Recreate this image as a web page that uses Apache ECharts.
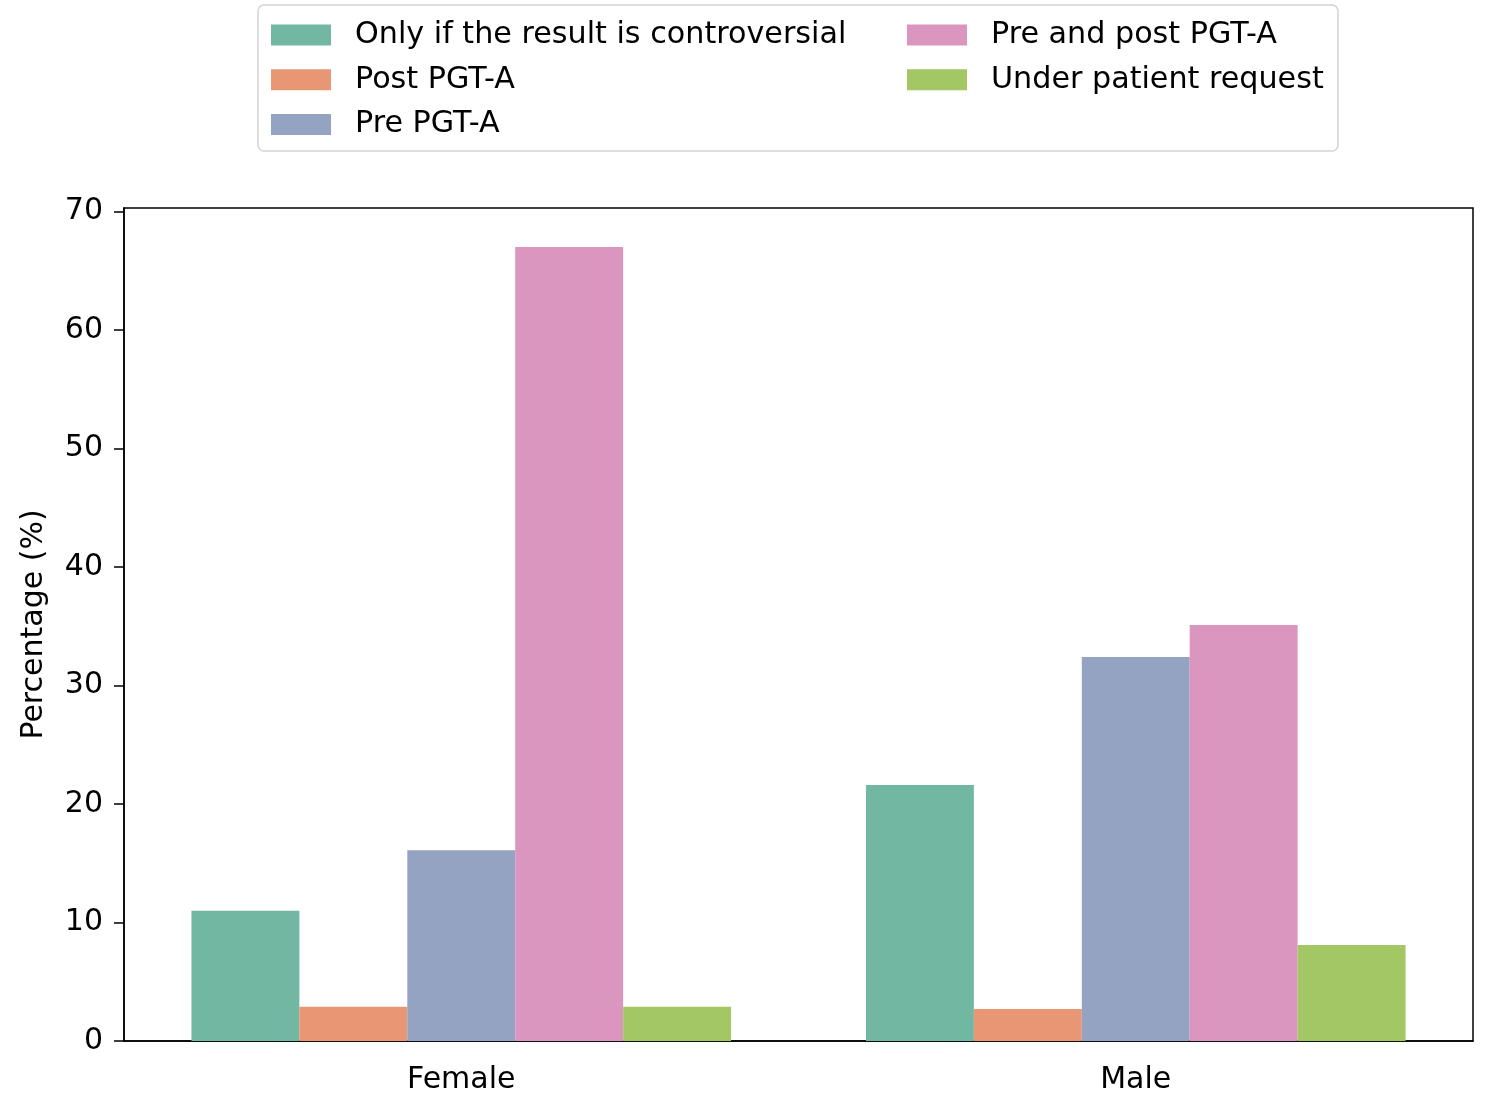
<!DOCTYPE html>
<html>
<head>
<meta charset="utf-8">
<script src="https://cdn.jsdelivr.net/npm/echarts@6/dist/echarts.min.js"></script>
<style>
  html, body { margin: 0; padding: 0; background: #ffffff; }
  #chart { width: 1486px; height: 1095px; }
</style>
</head>
<body>
<div id="chart"></div>
<script>
const categories = ['Female', 'Male'];
const seriesNames = ['Only if the result is controversial', 'Post PGT-A', 'Pre PGT-A', 'Pre and post PGT-A', 'Under patient request'];
const onlyIfControversial = [11.0, 21.6];
const postPGTA = [2.9, 2.7];
const prePGTA = [16.1, 32.4];
const preAndPostPGTA = [67.0, 35.1];
const underPatientRequest = [2.9, 8.1];
const yTicks = [0, 10, 20, 30, 40, 50, 60, 70];
const colors = ['#71b7a1', '#e99675', '#95a3c3', '#db96c0', '#a2c764'];

const seriesData = [onlyIfControversial, postPGTA, prePGTA, preAndPostPGTA, underPatientRequest];
const FONT = 'DejaVu Sans';

const chart = echarts.init(document.getElementById('chart'), null, { renderer: 'canvas' });

const legendText = { fontFamily: FONT, fontSize: 30.2, color: '#000', lineHeight: 30, padding: [0, 0, 0, 19] };

chart.setOption({
  animation: false,
  backgroundColor: '#ffffff',
  color: colors,
  graphic: [{
    type: 'rect',
    z: 0,
    shape: { x: 258, y: 5, width: 1080, height: 146, r: 6 },
    style: { fill: 'rgba(255,255,255,0.8)', stroke: '#d3d3d3', lineWidth: 1.5 }
  }],
  legend: [
    {
      data: seriesNames.slice(0, 3),
      orient: 'vertical',
      left: 271, top: 20,
      padding: 0,
      itemWidth: 60, itemHeight: 21, itemGap: 14.7,
      icon: 'rect',
      textStyle: legendText,
      selectedMode: false,
      z: 5
    },
    {
      data: seriesNames.slice(3),
      orient: 'vertical',
      left: 907, top: 20,
      padding: 0,
      itemWidth: 60, itemHeight: 21, itemGap: 14.7,
      icon: 'rect',
      textStyle: legendText,
      selectedMode: false,
      z: 5
    }
  ],
  grid: {
    left: 124, right: 13, top: 208, bottom: 51,
    show: true, borderColor: '#000', borderWidth: 1.5,
    containLabel: false
  },
  xAxis: {
    type: 'category',
    data: categories,
    axisLine: { lineStyle: { color: '#000', width: 1.5 } },
    axisTick: { alignWithLabel: true, length: 10, lineStyle: { color: '#000', width: 1.5 } },
    axisLabel: { fontFamily: FONT, fontSize: 30, color: '#000', margin: 24 },
    splitLine: { show: false }
  },
  yAxis: {
    type: 'value',
    min: 0, max: 70.3,
    name: 'Percentage (%)',
    nameLocation: 'middle',
    nameGap: 75,
    nameTextStyle: { fontFamily: FONT, fontSize: 30, color: '#000' },
    axisLine: { show: true, lineStyle: { color: '#000', width: 1.5 } },
    axisTick: { show: true, length: 10, customValues: yTicks, lineStyle: { color: '#000', width: 1.5 } },
    axisLabel: { fontFamily: FONT, fontSize: 30, color: '#000', margin: 21, padding: [10, 0, 0, 0], customValues: yTicks },
    splitLine: { show: false }
  },
  series: seriesNames.map((name, i) => ({
    name: name,
    type: 'bar',
    data: seriesData[i],
    barGap: '0%',
    barCategoryGap: '20%',
    itemStyle: { color: colors[i] }
  }))
});
</script>
</body>
</html>
